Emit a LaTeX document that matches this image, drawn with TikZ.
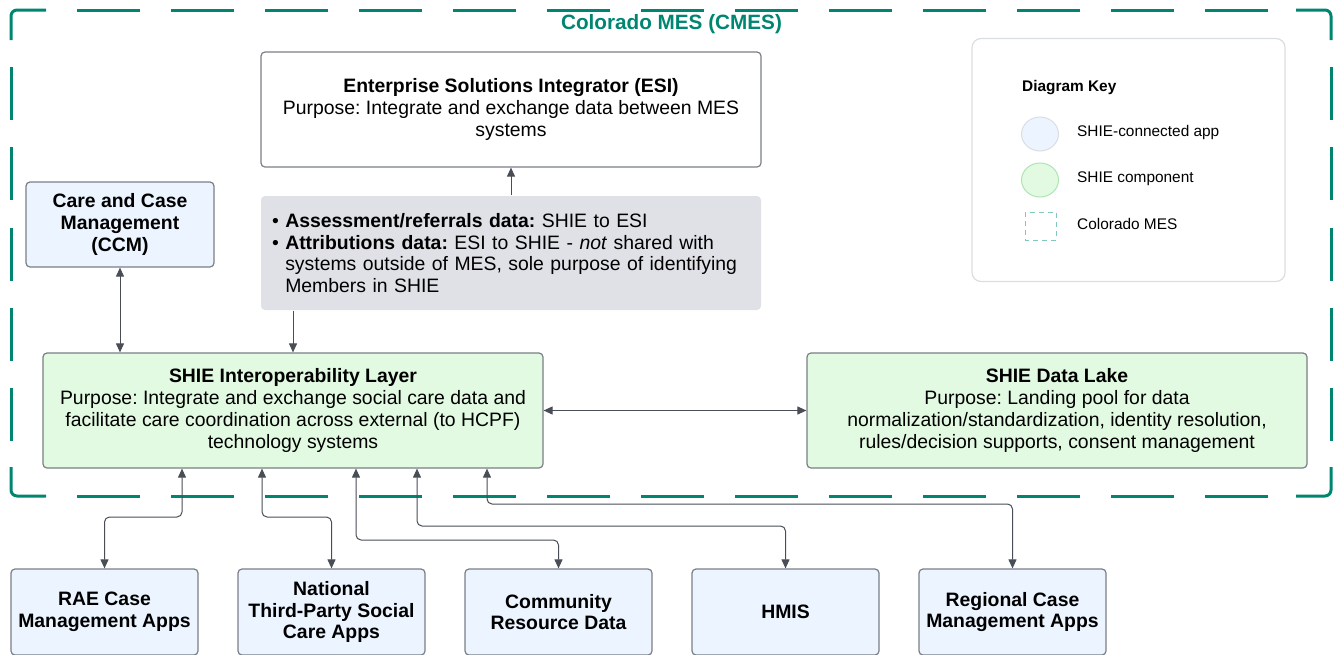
\documentclass[tikz,border=0pt]{standalone}
\usepackage{fontspec}
\setmainfont{Liberation Sans}
\usepackage{tikz}
\usetikzlibrary{arrows.meta,positioning}

\definecolor{mesteal}{RGB}{0,134,112}
\definecolor{keyteal}{RGB}{130,200,186}
\definecolor{linkgray}{RGB}{72,77,86}
\definecolor{boxgray}{RGB}{122,126,134}
\definecolor{keygray}{RGB}{218,221,225}
\definecolor{appblue}{RGB}{236,244,255}
\definecolor{compgreen}{RGB}{226,250,226}
\definecolor{notegray}{RGB}{223,225,230}

\newcommand{\boxfont}{\fontsize{19.4}{21.7}\selectfont}
\newcommand{\keyfont}{\fontsize{15.4}{18}\selectfont}
\frenchspacing

\tikzstyle{sysbox}=[draw=boxgray, line width=1.2pt, rounded corners=4pt,
                align=center, inner sep=4pt, font=\boxfont]
\tikzstyle{app}=[sysbox, fill=appblue, minimum width=187pt, minimum height=86pt,
                font=\boxfont\bfseries]
\tikzstyle{comp}=[sysbox, fill=compgreen, minimum width=500pt, minimum height=115pt]
\tikzstyle{frame}=[draw=mesteal, line width=3pt]
\tikzstyle{link}=[draw=linkgray, line width=1pt, rounded corners=5pt,
                >={Triangle[length=9pt,width=8pt]}]
\tikzstyle{keytext}=[anchor=west, inner sep=0, font=\keyfont]

\begin{document}
\begin{tikzpicture}[x=1pt, y=-1pt, node distance=38.8pt]
\path[use as bounding box] (0,0) rectangle (1333,654);

% CMES boundary: solid corners, dashed sides
\draw[frame, rounded corners=6pt] (11,40) |- (46,10);
\draw[frame, rounded corners=6pt] (1296,10) -| (1331,40);
\draw[frame, rounded corners=6pt] (11,467) |- (46,496);
\draw[frame, rounded corners=6pt] (1296,496) -| (1331,467);
\foreach \x in {77,171,...,1205} {
  \draw[frame] (\x,10) -- ++(63,0);
  \draw[frame] (\x,496) -- ++(63,0);
}
\foreach \y in {67,147.25,...,390} {
  \draw[frame] (11,\y) -- ++(0,53);
  \draw[frame] (1331,\y) -- ++(0,53);
}
\node[text=mesteal, font=\fontsize{20.7}{24}\selectfont\bfseries] (cmes) at (671.5,24.5)
  {Colorado MES (CMES)};

\node[sysbox, fill=white, minimum width=500pt, minimum height=115pt] (esi) at (511,109.5)
  {\textbf{Enterprise Solutions Integrator (ESI)}\\
   Purpose: Integrate and exchange data between MES\\systems};
\node[sysbox, draw=none, fill=notegray, align=left, text width=478pt, inner xsep=11pt,
      minimum height=114pt] (notes) at (511,253)
  {\textbullet\ \textbf{Assessment/referrals data:} SHIE to ESI\\
   \textbullet\ \textbf{Attributions data:} ESI to SHIE - \textit{not} shared with\\
   \hphantom{\textbullet\ }systems outside of MES, sole purpose of identifying\\
   \hphantom{\textbullet\ }Members in SHIE};
\node[app, minimum width=188pt, minimum height=85pt] (ccm) at (120,224.5)
  {Care and Case\\Management\\(CCM)};

\node[comp] (shie) at (293,410.5)
  {\textbf{SHIE Interoperability Layer}\\
   Purpose: Integrate and exchange social care data and\\
   facilitate care coordination across external (to HCPF)\\
   technology systems};
\node[comp] (lake) at (1057,410.5)
  {\textbf{SHIE Data Lake}\\
   Purpose: Landing pool for data\\
   normalization/standardization, identity resolution,\\
   rules/decision supports, consent management};

\node[app] (rae) at (104.5,612) {RAE Case\\Management Apps};
\node[app, right=of rae] (nat) {National\\Third-Party Social\\Care Apps};
\node[app, right=of nat] (crd) {Community\\Resource Data};
\node[app, right=of crd] (hmis) {HMIS};
\node[app, right=of hmis] (rcm) {Regional Case\\Management Apps};

% diagram key
\node[draw=keygray, line width=1.2pt, rounded corners=9pt, minimum width=313pt,
      minimum height=243pt] (key) at (1128.5,160) {};
\node[keytext, font=\keyfont\bfseries] (keyhead) at (1022,88) {Diagram Key};
\draw[fill=appblue, draw=keygray, line width=1pt] (1040,134) ellipse [x radius=18.5, y radius=17];
\draw[fill=compgreen, draw=keygray!80!green, line width=1pt] (1040,180) ellipse [x radius=18.5, y radius=17];
\draw[keyteal, line width=1pt, dash pattern=on 5pt off 4pt] (1025,212) rectangle (1056,240);
\node[keytext] (keyapp) at (1077,133) {SHIE-connected app};
\node[keytext] (keycomp) at (1077,179) {SHIE component};
\node[keytext] (keymes) at (1077,224) {Colorado MES};

\draw[link,->] (notes.north) -- (esi.south);
\draw[link,->] (notes.south -| shie.north) -- (shie.north);
\draw[link,<->] (ccm.south) -- (ccm.south |- shie.north);
\draw[link,<->] (shie.east) -- (lake.west);
\foreach \x/\y/\n in {182/517/rae, 262/517/nat, 356/540/crd, 417/526/hmis, 487/504/rcm}
  \draw[link,<->] (\x,0 |- shie.south) -- (\x,\y) -| (\n.north);
\end{tikzpicture}
\end{document}
